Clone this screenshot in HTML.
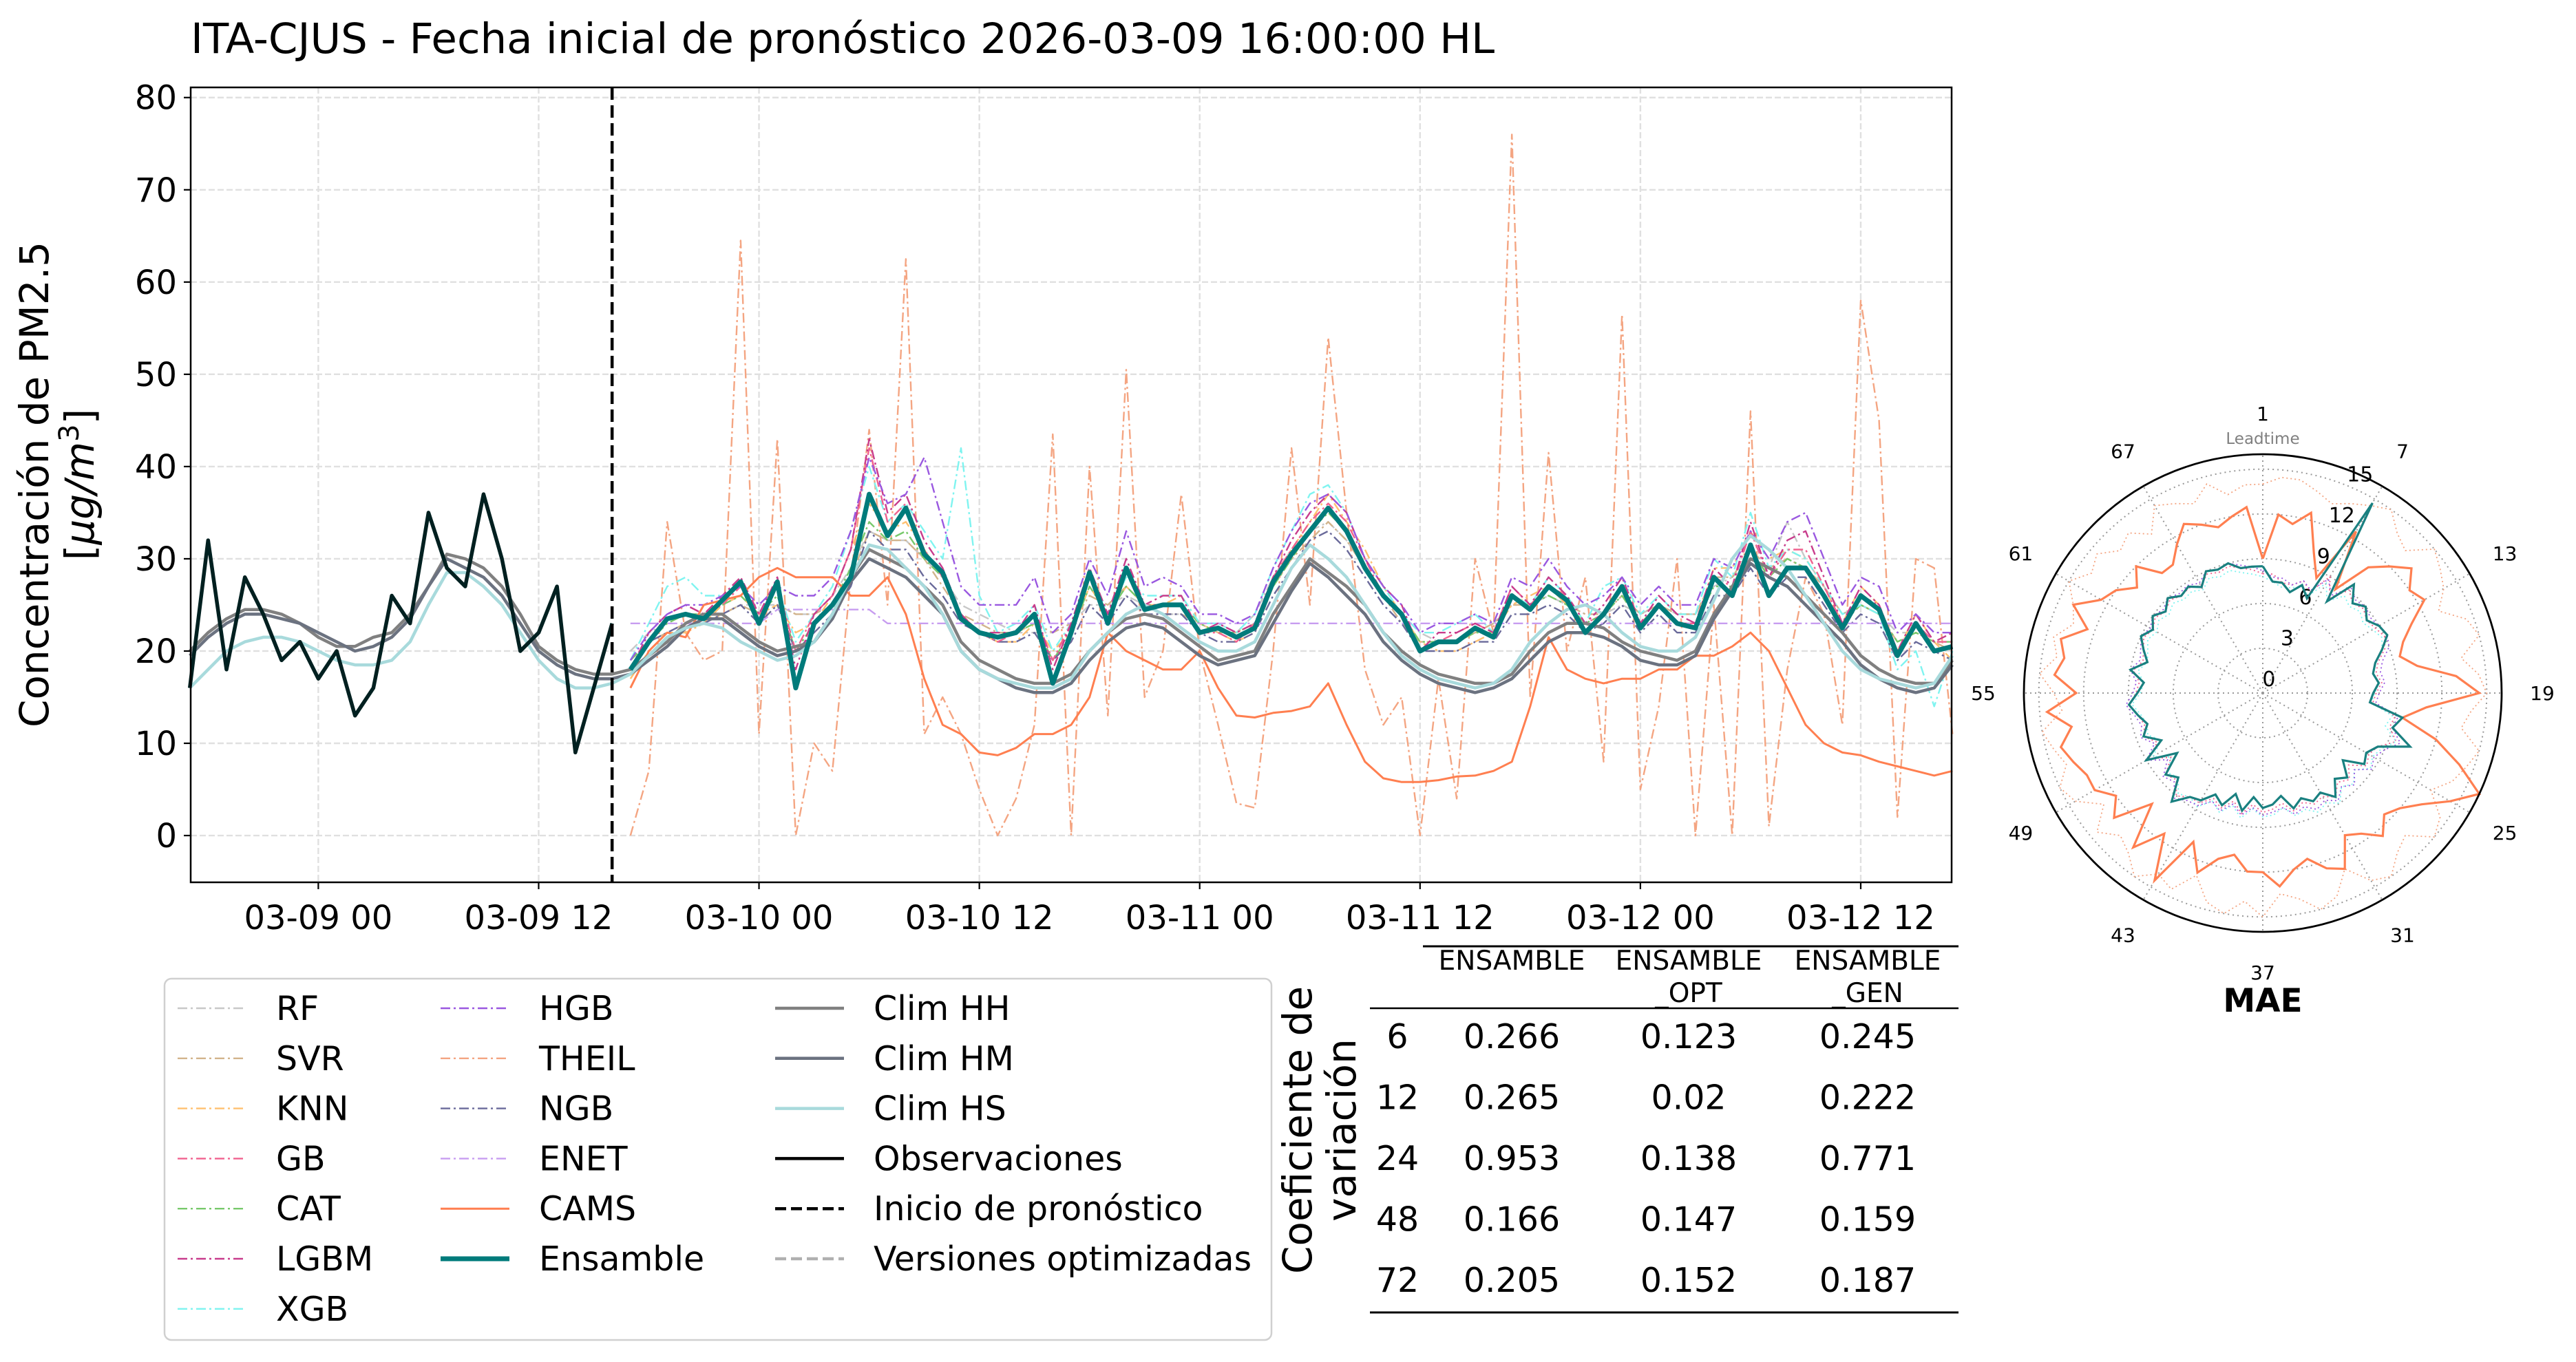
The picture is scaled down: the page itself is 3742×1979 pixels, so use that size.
<!DOCTYPE html>
<html><head><meta charset="utf-8"><style>
html,body{margin:0;padding:0;background:#fff;}
svg{display:block;font-family:"DejaVu Sans","Liberation Sans",sans-serif;}
</style></head><body>
<svg id="chart" width="3742" height="1979" viewBox="0 0 3742 1979" xmlns="http://www.w3.org/2000/svg">
<rect x="0" y="0" width="3742" height="1979" fill="#fff"/>
<text x="277" y="77" font-size="61" fill="#000">ITA-CJUS - Fecha inicial de pronóstico 2026-03-09 16:00:00 HL</text>
<g id="grid"></g>
<g id="series"></g>
<rect x="277" y="127" width="2558" height="1155" fill="none" stroke="#000" stroke-width="2.5"/>
<g id="ticks"></g>
<g transform="translate(70,704) rotate(-90)">
<text x="0" y="0" font-size="58" text-anchor="middle">Concentración de PM2.5</text>
<text x="0" y="66" font-size="58" text-anchor="middle">[<tspan font-style="italic">μg/m</tspan><tspan font-size="40" dy="-22">3</tspan><tspan dy="22">]</tspan></text>
</g>
<g id="legend">
<rect x="239" y="1422" width="1608" height="525" rx="10" fill="#fff" stroke="#d0d0d0" stroke-width="2.5"/>
</g>
<g id="table">
<g transform="translate(1905,1642) rotate(-90)">
<text x="0" y="0" font-size="58" text-anchor="middle">Coeficiente de</text>
<text x="0" y="64" font-size="58" text-anchor="middle">variación</text>
</g>
<line x1="2067" y1="1375" x2="2845" y2="1375" stroke="#000" stroke-width="3"/>
<line x1="1990" y1="1465" x2="2845" y2="1465" stroke="#000" stroke-width="2.5"/>
<line x1="1990" y1="1907" x2="2845" y2="1907" stroke="#000" stroke-width="3"/>
</g>
<g id="polar"></g>
</svg>
<script>
const NS="http://www.w3.org/2000/svg";
// ---------- time series data ----------
const yTicks=[0,10,20,30,40,50,60,70,80];
const xTickHours=[0,12,24,36,48,60,72,84];
const xTickLabels=["03-09 00","03-09 12","03-10 00","03-10 12","03-11 00","03-11 12","03-12 00","03-12 12"];
const obsStart=-7;
const obs=[16,32,18,28,24,19,21,17,20,13,16,26,23,35,29,27,37,30,20,22,27,9,16,23];
const fcStart=17;
const forecastStartHour=16;
const ens=[18,21,23.5,24,23.5,25.5,27.5,23,27.5,16, 23,25,28,37,32.5,35.5,30.5,28.5,23.5,22, 21.5,22,24,16.5,22,28.5,23,29,24.5,25, 25,22,22.5,21.5,22.5,27.5,30.5,33,35.5,33, 29,26,24,20,21,21,22.5,21.5,26,24.5, 27,25.5,22,24,27,22.5,25,23,22.5,28, 26,31.5,26,29,29,26,22.5,26,24.5,19.5, 23,20,20.5];
const cams=[16,20,22,21.5,25,25.5,26,28,29,28, 28,28,26,26,28,24,17,12,11,9, 8.7,9.5,11,11,12,15,22,20,19,18, 18,20,16,13,12.8,13.3,13.5,14,16.5,12, 8,6.2,5.8,5.8,6,6.4,6.5,7,8,14, 21.5,18,17,16.5,17,17,18,18,19.5,19.5, 20.5,22,20,16,12,10,9,8.7,8,7.5, 7,6.5,7];
const theil=[0,7,34,22,19,20,64.5,11,43,0, 10,7,28,44,25,62.5,11,15,11,5, 0,4,12,43.5,0,40,13,50.5,15,20, 37,20,12,3.5,3,20,42,25,54,35, 18,12,15,0,17,4,30,22,76,15, 41.5,20,28,8,56.5,5,14,30,0,25, 0,46,1,18,28,24,12,58,45,2, 30,29,11];
const rf=[20,22,23,24,24,24,25,25,25,24, 24,26,29,33,32,32,30,28,25,24, 23,22,22,22,23,25,25,26,25,24, 24,23,23,22,24,28,31,33,34,32, 29,26,24,22,21,21,22,23,25,25, 26,25,24,24,25,24,25,24,24,27, 28,30,29,34,30,27,24,25,24,22, 22,21,21];
const svr=[19,21,22,23,23,24,25,24,25,24, 24,25,28,33,32,32,30,27,24,23, 22,22,23,22,23,26,25,27,25,24, 24,23,22,22,23,27,30,32,34,32, 29,26,23,21,21,21,22,23,25,25, 27,25,24,24,26,24,25,24,24,28, 28,31,29,30,29,27,24,25,24,21, 22,21,20];
const knn=[17,20,22,22,23,25,26,24,25,22, 23,26,31,36,33,34,31,28,24,22, 21,21,23,20,22,27,24,27,25,25, 26,23,22,21,22,27,31,34,37,34, 31,27,24,21,20,20,21,22,25,26, 27,25,22,24,27,23,25,23,23,29, 29,33,30,31,30,27,23,27,25,20, 24,21,19];
const gb=[18,22,24,25,24,25,27,24,27,20, 24,26,31,42,34,36,31,28,24,22, 21,22,24,19,23,28,24,29,25,25, 25,22,22,21,23,28,31,34,36,34, 30,26,24,20,21,22,23,22,27,25, 27,26,23,24,27,23,25,23,23,28, 27,33,28,31,31,27,23,26,25,20, 23,21,21];
const cat=[19,21,23,24,24,25,26,24,26,20, 23,25,29,34,32,33,30,28,24,22, 22,22,23,19,22,27,24,27,25,25, 25,23,22,22,23,27,30,33,35,33, 29,26,24,21,21,21,22,22,26,25, 26,25,23,24,26,23,25,23,23,27, 27,31,28,30,29,26,23,25,24,21, 22,21,21];
const lgbm=[18,22,24,25,24,26,28,24,28,18, 24,26,31,43,35,37,32,29,24,22, 22,22,25,18,23,29,24,30,25,26, 26,22,23,22,23,28,32,35,37,35, 30,27,25,20,22,22,23,22,27,25, 28,26,23,25,28,23,26,24,23,29, 27,34,28,32,33,28,23,27,25,20, 24,21,22];
const xgb=[19,23,27,28,26,26,27,24,27,21, 24,27,33,40,34,36,33,30,42,26, 22,23,25,20,23,29,24,28,26,26, 26,23,23,22,24,29,33,37,38,35, 30,27,24,22,22,23,24,22,26,25, 28,26,23,27,28,24,26,24,24,30, 28,35,29,31,30,27,24,25,24,18, 20,14,20];
const hgb=[19,22,24,25,25,26,27,25,27,26, 26,28,33,41,36,37,41,34,27,25, 25,25,28,22,24,30,26,33,27,28, 27,24,24,23,24,29,33,36,37,35, 30,27,25,22,23,23,24,23,28,27, 30,27,25,26,28,25,27,25,25,30, 29,33,30,34,35,30,25,28,27,22, 24,22,22];
const ngb=[18,21,22,23,23,24,25,23,25,20, 22,24,27,33,31,31,28,26,23,22, 21,21,22,19,21,25,23,26,24,24, 24,22,21,21,22,26,29,32,33,31, 28,25,23,20,20,20,21,21,24,24, 25,24,22,23,25,22,24,22,22,26, 26,29,26,28,28,25,22,24,23,19, 21,20,19];
const enet=[23,23,23,23,23,23,23,23,24.5,24.5, 24.5,24.5,24.5,24.5,23,23,23,23,23,23, 23,23,23,23,23,23,23,23,23,23, 23,23,23,23,23,23,23,23,23,23, 23,23,23,23,23,23,23,23,23,23, 23,23,23,23,23,23,23,23,23,23, 23,23,23,23,23,23,23,23,23,23, 23,23,23];
const climStart=-7;
const climHH=[20,22,23.5,24.5,24.5,24,23,
 21.5,20.5,20.5,21.5,22,24,27,30.5,30,29,27,24,20.5,19,18,17.5,17.5,18,19.5,21,23,24,24,22.5,
 21,20,20.5,21,24,28,31,30,29,27,25,21,19,18,17,16.5,16.5,17.5,20,22,23.5,24,23.5,22,
 20.5,19,19.5,20,24,27,30,28.5,27,25,22,20,18.5,17.5,17,16.5,16.5,17.5,20,22,23,23,22.5,21,
 20,19.5,19,20,24,27,30,29,28,26,24,22,19.5,18,17,16.5,16.5,19];
const climHM=[19.5,21.5,23,24,24,23.5,23,
 22,21,20,20.5,21.5,23.5,27,30,29,28,26,23,20,18.5,17.5,17,17,17.5,19,20.5,22.5,23.5,23.5,22,
 20.5,19.5,20,21,23.5,27.5,30,29,28,26,24,20,18,17,16,15.5,15.5,16.5,19,21,22.5,23,22.5,21,
 19.5,18.5,19,19.5,23,26.5,29.5,28,26,24,21,19,17.5,16.5,16,15.5,16,17,19,21,22,22,21.5,20.5,
 19,18.5,18.5,19.5,23.5,26.5,29.5,28,27,25,23,21,18.5,17,16,15.5,16,18.5];
const climHS=[16,18,20,21,21.5,21.5,21,
 20,19,18.5,18.5,19,21,25,28.5,28.5,27,25,22,19,17,16,16,16.5,17.5,19.5,21.5,22.5,23,22.5,21,
 20,19,19.5,21,24,28,31.5,31,29,27,24,20,18,17,16.5,16,16,17,20,22,24,25,24,22.5,
 21,20,20,21,25,29,31.5,30,28,25,22,19.5,18,17,16.5,16,16.5,18,21,23,24.5,25,24,22,
 20.5,20,20,21.5,25.5,30,32.5,31,29,26,23,20,18,17,16.5,16,16.5,19.5];
// ---------- table data ----------
const cvLeads=["6","12","24","48","72"];
const cvEns=["0.266","0.265","0.953","0.166","0.205"];
const cvOpt=["0.123","0.02","0.138","0.147","0.152"];
const cvGen=["0.245","0.222","0.771","0.159","0.187"];
// ---------- polar MAE data (leadtime 1..72) ----------
const maeEns=[8.5,7.5,7.5,7,7.7,7,14.7,7.5,9.5,8.5,9,8.5, 9,9.2,8.5,7.8,7.5,7.8,7.4,7.2,9.5,9,10.5,8.5, 8,8.3,7,8,7.5,8.5,7.7,8,7.5,8,7,7.5, 7.7,7,8,7,8,7.5,8.3,8.5,9.5,8,8.5,7, 9,7.5,8.5,8,8.5,9,8.4,8,9,8,8.5,9, 8.5,9,8.5,9,8.5,8.7,8.2,9,8.8,9,8.5,8.5];
const maeCams=[9,12,11.5,12.5,10,8.5,12.5,8.5,11,12,13,12, 12.5,11,10,9.5,10.5,13,14.5,11,9.5,12,14,16, 14.5,13,12,11.5,12.5,11.5,11,13,12.5,11.5,12,13, 12,12,11,11.5,12.8,11,14.5,11.5,13.5,10.5,13,12, 13,13,13.5,14,13,14.5,12.5,14,13.5,14,12.5,14, 12.5,12,11,12,10.5,10.5,11.5,12.5,12,11.5,12,12.5];
const maeTheil=[14,14.5,14.5,14,13.5,14,14.5,15,14,13.5,15,14.5, 14,13,14.5,15,13.5,14.5,15,14,13.5,15,14.5,14, 13,14.5,15,13.5,14,15,14.5,13,14.5,15,14,13.5, 15,14,15,14.5,13,14.5,14,15,14,13.5,14.5,13, 14.5,15,14,14.5,15,13.5,14,15,14,14.5,13.5,14, 15,14,14.5,13.5,14,13,14.5,14,13.5,14.5,13.5,14];
const maeGb=[8,8,7.5,7.5,8,7.5,9,7.8,9,8.5,8.8,8.5, 8.7,9,8.7,8,7.7,8,7.6,7.4,9,8.8,9.5,8.5, 8.2,8.5,7.5,8.2,7.8,8.5,8,8.2,7.8,8.2,7.5,7.8, 8,7.5,8.2,7.5,8.2,7.8,8.5,8.5,9,8.2,8.5,7.5, 8.8,7.8,8.5,8.2,8.5,9,8.5,8.3,8.8,8.3,8.5,8.8, 8.5,8.8,8.5,8.8,8.5,8.6,8.3,8.8,8.6,8.8,8.5,8.3];
const maeXgb=[7.8,7.5,7.2,7.3,7.6,7.2,8.5,7.5,8.5,8.2,8.5,8.2, 8.5,8.8,8.5,7.8,7.5,7.8,7.5,7.3,8.8,8.5,9.5,8.8, 8.5,8.8,8,8.6,8.2,9,8.5,8.8,8.3,8.5,7.8,8.2, 8.3,7.8,8.5,7.8,8.5,8,8.8,8.5,8.8,8,8.3,7.5, 8.5,7.5,8.2,8,8.3,8.8,8.2,8,8.5,8,8.2,8.5, 8.2,8.5,8.2,8.5,8.2,8.3,8,8.5,8.3,8.5,8.2,8];
const maeHgb=[8.2,7.8,7.8,7.5,8,7.6,8.8,8,9.2,8.8,9,8.8, 9,9.2,9,8.3,8,8.2,7.8,7.6,9.2,9,9.8,9, 8.6,8.9,8,8.7,8.2,8.8,8.3,8.6,8.1,8.4,7.8,8, 8.2,7.7,8.3,7.7,8.4,8,8.7,8.8,9.2,8.4,8.7,7.8, 9,8,8.7,8.4,8.7,9.2,8.7,8.5,9,8.5,8.7,9, 8.7,9,8.7,9,8.7,8.8,8.5,9,8.8,9,8.7,8.5];
const polarTickLabels=["1","7","13","19","25","31","37","43","49","55","61","67"];
const polarRings=[3,6,9,12,15];

const X0=277,X1=2835,T0=-6.95,T1=88.95;
const Y0=1282,Y1=127,V0=-5.07,V1=81.1;
function xs(t){return X0+(t-T0)*(X1-X0)/(T1-T0);}
function ys(v){return Y0-(v-V0)*(Y0-Y1)/(V1-V0);}
function mk(tag,attrs,parent){const e=document.createElementNS(NS,tag);for(const k in attrs)e.setAttribute(k,attrs[k]);if(parent)parent.appendChild(e);return e;}

const grid=document.getElementById('grid');
const ticks=document.getElementById('ticks');
yTicks.forEach(v=>{
  const gl=mk('line',{x1:X0,x2:X1,y1:ys(v),y2:ys(v),stroke:'#e0e0e0','stroke-width':2.4,'stroke-dasharray':'9,4'},grid);
  
  
  const tk=mk('line',{x1:X0-10,x2:X0,y1:ys(v),y2:ys(v),stroke:'#000','stroke-width':2.2},ticks);
  
  
  const tl=mk('text',{x:X0-20,y:ys(v)+17,'font-size':48,'text-anchor':'end'},ticks);
  tl.textContent=String(v);
  
  
});
xTickHours.forEach((h,i)=>{
  const gl=mk('line',{x1:xs(h),x2:xs(h),y1:Y1,y2:Y0,stroke:'#e0e0e0','stroke-width':2.4,'stroke-dasharray':'9,4'},grid);
  
  
  const tk=mk('line',{x1:xs(h),x2:xs(h),y1:Y0,y2:Y0+10,stroke:'#000','stroke-width':2.2},ticks);
  
  
  const tl=mk('text',{x:xs(h),y:1350,'font-size':48,'text-anchor':'middle'},ticks);
  tl.textContent=xTickLabels[i];
  
  
});

const ser=document.getElementById('series');
function line(arr,start,color,w,dash,name){
  const d=arr.map((v,i)=>(i?'L':'M')+xs(start+i).toFixed(1)+','+ys(v).toFixed(1)).join(' ');
  const p=mk('path',{d:d,fill:'none',stroke:color,'stroke-width':w,'stroke-linejoin':'round'},ser);
  if(dash)p.setAttribute('stroke-dasharray',dash);
  
  
}
const DD='14,5,3,5';
line(theil,fcStart,'#f4a582',2.4,DD,'theil-line');
line(rf,fcStart,'#c8c8c8',2.4,DD,'rf-line');
line(svr,fcStart,'#d2b48c',2.4,DD,'svr-line');
line(knn,fcStart,'#ffc070',2.4,DD,'knn-line');
line(cat,fcStart,'#77c96b',2.4,DD,'cat-line');
line(xgb,fcStart,'#7ff4f0',2.4,DD,'xgb-line');
line(ngb,fcStart,'#6a6a9a',2.4,DD,'ngb-line');
line(enet,fcStart,'#c79df0',2.4,DD,'enet-line');
line(gb,fcStart,'#f0628f',2.4,DD,'gb-line');
line(lgbm,fcStart,'#c83c8c',2.4,DD,'lgbm-line');
line(hgb,fcStart,'#9a58e0',2.4,DD,'hgb-line');
line(cams,fcStart,'#ff7f50',3,null,'cams-line');
line(climHH,climStart,'#808080',4.5,null,'clim-hh-line');
line(climHM,climStart,'#6b7280',4.5,null,'clim-hm-line');
line(climHS,climStart,'#a8dadc',4.5,null,'clim-hs-line');
line(obs,obsStart,'#002020',5.5,null,'observations-line');
line(ens,fcStart,'#007b7b',7,null,'ensemble-line');
const vl=mk('line',{x1:xs(forecastStartHour),x2:xs(forecastStartHour),y1:Y1,y2:Y0,stroke:'#000','stroke-width':4.5,'stroke-dasharray':'18,8'},ser);



// legend
const leg=document.getElementById('legend');
const legendCols=[
 [["RF","#c8c8c8",2.4,DD],["SVR","#d2b48c",2.4,DD],["KNN","#ffc070",2.4,DD],["GB","#f0628f",2.4,DD],["CAT","#77c96b",2.4,DD],["LGBM","#c83c8c",2.4,DD],["XGB","#7ff4f0",2.4,DD]],
 [["HGB","#9a58e0",2.4,DD],["THEIL","#f4a582",2.4,DD],["NGB","#6a6a9a",2.4,DD],["ENET","#c79df0",2.4,DD],["CAMS","#ff7f50",3,null],["Ensamble","#007b7b",7,null]],
 [["Clim HH","#808080",4.5,null],["Clim HM","#6b7280",4.5,null],["Clim HS","#a8dadc",4.5,null],["Observaciones","#000",4.5,null],["Inicio de pronóstico","#000",4.5,"16,7"],["Versiones optimizadas","#b0b0b0",4.5,"16,7"]]
];
const colX=[258,640,1126];
legendCols.forEach((col,ci)=>{col.forEach((it,ri)=>{
  const y=1465+ri*72.8;
  const g=mk('g',{},leg);
  
  
  const l=mk('line',{x1:colX[ci],x2:colX[ci]+100,y1:y,y2:y,stroke:it[1],'stroke-width':it[2]},g);
  if(it[3])l.setAttribute('stroke-dasharray',it[3]);
  const t=mk('text',{x:colX[ci]+143,y:y+17,'font-size':49},g);
  t.textContent=it[0];
});});

// table
const tb=document.getElementById('table');
const colC=[2196,2453,2713];
[["ENSAMBLE",""],["ENSAMBLE","_OPT"],["ENSAMBLE","_GEN"]].forEach((h,i)=>{
  const t=mk('text',{x:colC[i],y:1409,'font-size':39,'text-anchor':'middle'},tb);
  t.textContent=h[0];
  
  
  if(h[1]){const t2=mk('text',{x:colC[i],y:1456,'font-size':39,'text-anchor':'middle'},tb);t2.textContent=h[1];
  
  }
});
cvLeads.forEach((ld,r)=>{
  const y=1523+r*88.5;
  const vals=[ld,cvEns[r],cvOpt[r],cvGen[r]];
  const xsC=[2030,colC[0],colC[1],colC[2]];
  vals.forEach((v,c)=>{
    const t=mk('text',{x:xsC[c],y:y,'font-size':49,'text-anchor':'middle'},tb);
    t.textContent=v;
    
    
  });
});

// polar
const pg=document.getElementById('polar');
const CX=3287,CY=1007,R=347,RMAX=16;
function pr(v){return v*R/RMAX;}
function pxy(i,v){const a=i*5*Math.PI/180;return [CX+pr(v)*Math.sin(a),CY-pr(v)*Math.cos(a)];}
polarRings.concat([0]).forEach(rv=>{
  if(rv>0){const c=mk('circle',{cx:CX,cy:CY,r:pr(rv),fill:'none',stroke:'#999','stroke-width':2,'stroke-dasharray':'2,5'},pg);
  
  }
  const a=24*Math.PI/180,rr=pr(rv)+22;
  const t=mk('text',{x:CX+rr*Math.sin(a),y:CY-rr*Math.cos(a)+10,'font-size':30,'text-anchor':'middle'},pg);
  t.textContent=String(rv);
  
  
});
polarTickLabels.forEach((lb,k)=>{
  const a=k*30*Math.PI/180;
  const s=mk('line',{x1:CX,y1:CY,x2:CX+R*Math.sin(a),y2:CY-R*Math.cos(a),stroke:'#999','stroke-width':2,'stroke-dasharray':'2,5'},pg);
  
  
  const t=mk('text',{x:CX+406*Math.sin(a),y:CY-406*Math.cos(a)+10,'font-size':28,'text-anchor':'middle'},pg);
  t.textContent=lb;
  
  
});
function pline(arr,color,w,dash,name){
  const pts=arr.map((v,i)=>pxy(i,v));pts.push(pts[0]);
  const p=mk('path',{d:pts.map((q,i)=>(i?'L':'M')+q[0].toFixed(1)+','+q[1].toFixed(1)).join(' '),fill:'none',stroke:color,'stroke-width':w,'stroke-linejoin':'miter'},pg);
  if(dash)p.setAttribute('stroke-dasharray',dash);
  
  
}
pline(maeTheil,'#f4a582',1.8,'2,4','polar-theil');
pline(maeGb,'#f0628f',1.8,'2,4','polar-gb');
pline(maeXgb,'#7ff4f0',1.8,'2,4','polar-xgb');
pline(maeHgb,'#9a58e0',1.8,'2,4','polar-hgb');
pline(maeCams,'#ff7f50',3.2,null,'polar-cams');
pline(maeEns,'#1a8080',3.2,null,'polar-ensemble');
const oc=mk('circle',{cx:CX,cy:CY,r:R,fill:'none',stroke:'#000','stroke-width':2.8},pg);


const lt=mk('text',{x:CX,y:645,'font-size':23,'text-anchor':'middle',fill:'#808080'},pg);
lt.textContent='Leadtime';


const mt=mk('text',{x:CX,y:1470,'font-size':47,'font-weight':'bold','text-anchor':'middle'},pg);
mt.textContent='MAE';


</script>
</body></html>
